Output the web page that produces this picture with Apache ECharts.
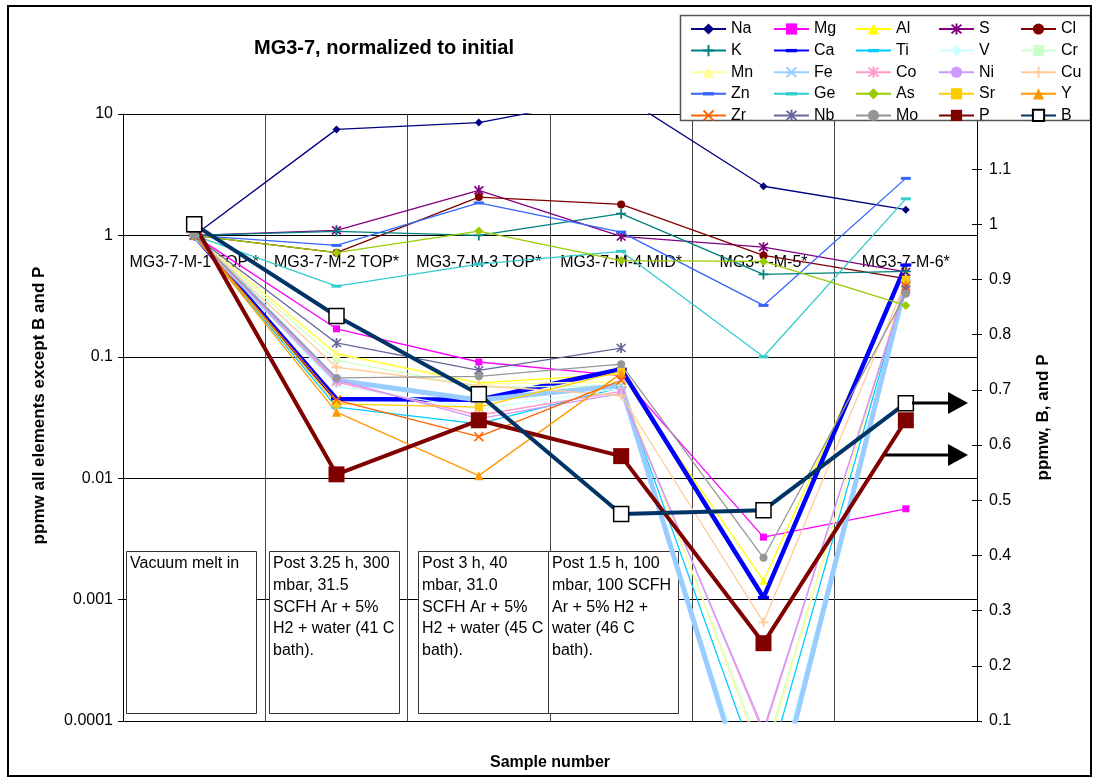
<!DOCTYPE html>
<html>
<head>
<meta charset="utf-8">
<script src="https://cdn.jsdelivr.net/npm/echarts@6/dist/echarts.min.js"></script>
<style>
  html, body { margin: 0; padding: 0; background: #fff; }
  #chart { width: 1093px; height: 778px; }
</style>
</head>
<body>
<div id="chart"></div>
<script>
// Samples along the x axis
const categories = ['MG3-7-M-1 TOP *', 'MG3-7-M-2 TOP*', 'MG3-7-M-3 TOP*', 'MG3-7-M-4 MID*', 'MG3-7-M-5*', 'MG3-7-M-6*'];

// Concentrations normalized to the first sample (left, logarithmic axis)
const Na = [1, 7.47, 8.5, 14.2, 2.54, 1.63];
const Mg = [1, 0.17, 0.0906, 0.070, 0.00327, 0.0056];
const Al = [1, 0.106, 0.061, 0.072, 0.00143, 0.53];
const S  = [1, 1.10, 2.35, 0.98, 0.80, 0.50];
const Cl = [1, 0.72, 2.07, 1.80, 0.684, 0.44];
const K  = [1, 1.08, 1.0, 1.51, 0.477, 0.505];
const Ca = [1, 0.045, 0.0443, 0.079, 0.00104, 0.57];
const Ti = [1, 0.0385, 0.028, 0.056, 0.00003, 0.42];
const V  = [1, 0.058, 0.037, 0.055, 0.000012, 0.40];
const Cr = [1, 0.094, 0.056, 0.058, 0.00005, 0.42];
const Mn = [1, 0.104, 0.060, 0.062, 0.000045, 0.45];
const Fe = [1, 0.064, 0.044, 0.058, 0.000009, 0.40];
const Co = [1, 0.062, 0.033, 0.052, 0.00008, 0.40];
const Ni = [1, 0.065, 0.031, 0.050, 0.000085, 0.38];
const Cu = [1, 0.082, 0.058, 0.048, 0.00065, 0.42];
const Zn = [1, 0.827, 1.85, 1.065, 0.265, 2.95];
const Ge = [1, 0.382, 0.58, 0.74, 0.10, 2.0];
const As = [1, 0.72, 1.085, 0.62, 0.61, 0.265];
const Sr = [1, 0.041, 0.0385, 0.076, null, 0.43];
const Y  = [1, 0.035, 0.0105, 0.073, null, 0.40];
const Zr = [1, 0.044, 0.022, 0.064, null, 0.38];
const Nb = [1, 0.13, 0.0774, 0.118, null, 0.36];
const Mo = [1, 0.067, 0.069, 0.087, 0.00221, 0.33];

// Boron and phosphorus in ppmw (right, linear axis)
const P = [1, 0.547, 0.645, 0.58, 0.241, 0.645];
const B = [1, 0.834, 0.692, 0.475, 0.482, 0.676];

// Right axis range and step
const rightMin = 0.1, rightMax = 1.2, rightStep = 0.1;

// Process notes shown under the samples
const notes = [
  'Vacuum melt in',
  'Post 3.25 h, 300\nmbar, 31.5\nSCFH Ar + 5%\nH2 + water (41 C\nbath).',
  'Post 3 h, 40\nmbar, 31.0\nSCFH Ar + 5%\nH2 + water (45 C\nbath).',
  'Post 1.5 h, 100\nmbar, 100 SCFH\nAr + 5% H2 +\nwater (46 C\nbath).'
];

// Legend columns (read top to bottom)
const legendColumns = [
  ['Na', 'K', 'Mn', 'Zn', 'Zr'],
  ['Mg', 'Ca', 'Fe', 'Ge', 'Nb'],
  ['Al', 'Ti', 'Co', 'As', 'Mo'],
  ['S', 'V', 'Ni', 'Sr', 'P'],
  ['Cl', 'Cr', 'Cu', 'Y', 'B']
];

const values = { Na, Mg, Al, S, Cl, K, Ca, Ti, V, Cr, Mn, Fe, Co, Ni, Cu, Zn, Ge, As, Sr, Y, Zr, Nb, Mo, P, B };
const order = ['Na','Mg','Al','S','Cl','K','Ca','Ti','V','Cr','Mn','Fe','Co','Ni','Cu','Zn','Ge','As','Sr','Y','Zr','Nb','Mo','P','B'];

// Marker shapes (square bounding boxes so they keep their shape everywhere)
const STAR = 'path://M-1.6,-10L1.6,-10L1.6,10L-1.6,10Z M-9.1,-6.9L-6.9,-9.1L9.1,6.9L6.9,9.1Z M6.9,-9.1L9.1,-6.9L-6.9,9.1L-9.1,6.9Z';
const CROSS = 'path://M-9.1,-6.9L-6.9,-9.1L9.1,6.9L6.9,9.1Z M6.9,-9.1L9.1,-6.9L-6.9,9.1L-9.1,6.9Z';
const PLUS = 'path://M-1.6,-9L1.6,-9L1.6,9L-1.6,9Z M-9,-1.6L9,-1.6L9,1.6L-9,1.6Z';
const DASH = 'path://M0,0L0,0M0,4.2L12,4.2L12,7.8L0,7.8ZM12,12L12,12';

const look = {
  Na: { c: '#000080', s: 'diamond', z: 8 },
  Mg: { c: '#FF00FF', s: 'rect', z: 7 },
  Al: { c: '#FFFF00', s: 'triangle', z: 8 },
  S:  { c: '#800080', s: STAR, z: 10 },
  Cl: { c: '#800000', s: 'circle', z: 8 },
  K:  { c: '#008080', s: PLUS, z: 10 },
  Ca: { c: '#0000FF', s: DASH, z: 11, w: 4.5 },
  Ti: { c: '#00CCFF', s: DASH, z: 10 },
  V:  { c: '#CCFFFF', s: 'diamond', z: 8 },
  Cr: { c: '#CCFFCC', s: 'rect', z: 7 },
  Mn: { c: '#FFFF99', s: 'triangle', z: 8 },
  Fe: { c: '#99CCFF', s: CROSS, z: 10, w: 5 },
  Co: { c: '#FF99CC', s: STAR, z: 10 },
  Ni: { c: '#CC99FF', s: 'circle', z: 8 },
  Cu: { c: '#FFCC99', s: PLUS, z: 10 },
  Zn: { c: '#3366FF', s: DASH, z: 10 },
  Ge: { c: '#33CCCC', s: DASH, z: 10 },
  As: { c: '#99CC00', s: 'diamond', z: 9 },
  Sr: { c: '#FFCC00', s: 'rect', z: 8 },
  Y:  { c: '#FF9900', s: 'triangle', z: 9 },
  Zr: { c: '#FF6600', s: CROSS, z: 10 },
  Nb: { c: '#666699', s: STAR, z: 10 },
  Mo: { c: '#969696', s: 'circle', z: 8 },
  P:  { c: '#800000', s: 'rect', z: 16, w: 4 },
  B:  { c: '#003366', s: 'rect', z: 15, w: 4 }
};

const FONT = 'Liberation Sans';

const series = order.map(function (n) {
  const st = look[n];
  const right = (n === 'P' || n === 'B');
  return {
    name: n,
    type: 'line',
    data: values[n],
    yAxisIndex: right ? 1 : 0,
    symbol: st.s,
    symbolSize: st.z,
    showAllSymbol: true,
    connectNulls: false,
    lineStyle: { color: st.c, width: st.w || 1.3 },
    itemStyle: n === 'B'
      ? { color: '#ffffff', borderColor: '#000000', borderWidth: 1.5 }
      : { color: st.c },
    emphasis: { disabled: true },
    animation: false
  };
});

const legendX = [690, 773, 855, 938, 1020];
const legends = legendColumns.map(function (col, i) {
  return {
    data: col,
    orient: 'vertical',
    left: legendX[i],
    top: 21,
    padding: 0,
    itemWidth: 35,
    itemHeight: 14,
    itemGap: 5.6,
    selectedMode: false,
    z: 6,
    textStyle: { fontSize: 16, color: '#000', fontFamily: FONT, lineHeight: 16, padding: [0, 0, 0, 0] }
  };
});

// Note boxes under samples 1-4
const boxX = [126, 269, 418, 548];
const noteGraphics = [];
notes.forEach(function (t, i) {
  noteGraphics.push({
    type: 'rect', z: 1, silent: true,
    shape: { x: boxX[i] + 0.5, y: 551.5, width: 130, height: 162 },
    style: { fill: '#ffffff', stroke: '#333333', lineWidth: 1 }
  });
  noteGraphics.push({
    type: 'text', z: 1, silent: true,
    x: boxX[i] + 4, y: 553,
    style: { text: t, fontSize: 16, fontFamily: FONT, fill: '#000', lineHeight: 21.7, verticalAlign: 'top' }
  });
});

function arrow(x0, x1, y) {
  return [
    { type: 'line', z: 5, silent: true, shape: { x1: x0, y1: y, x2: x1 - 16, y2: y }, style: { stroke: '#000', lineWidth: 3 } },
    { type: 'polygon', z: 5, silent: true, shape: { points: [[x1 - 20, y - 11], [x1, y], [x1 - 20, y + 11]] }, style: { fill: '#000' } }
  ];
}

const chart = echarts.init(document.getElementById('chart'), null, { renderer: 'canvas' });
chart.setOption({
  backgroundColor: '#ffffff',
  animation: false,
  textStyle: { fontFamily: FONT },
  title: {
    text: 'MG3-7, normalized to initial',
    left: 384, top: 38, textAlign: 'center', padding: 0,
    textStyle: { fontSize: 20, fontWeight: 'bold', color: '#000', fontFamily: FONT }
  },
  legend: legends,
  grid: { left: 123, right: 116, top: 114, bottom: 57, containLabel: false },
  xAxis: [
    {
      type: 'category', data: categories, position: 'bottom', boundaryGap: true,
      axisLine: { show: true, lineStyle: { color: '#000', width: 1 } },
      axisTick: { show: false }, axisLabel: { show: false },
      splitLine: { show: true, lineStyle: { color: '#444', width: 1 } },
      name: 'Sample number', nameLocation: 'middle', nameGap: 34,
      nameTextStyle: { fontSize: 16, fontWeight: 'bold', color: '#000', fontFamily: FONT }
    },
    {
      type: 'category', data: categories, position: 'bottom', offset: -486, boundaryGap: true,
      axisLine: { show: true, lineStyle: { color: '#000', width: 1 } },
      axisTick: { show: false },
      axisLabel: { interval: 0, margin: 20, fontSize: 16, color: '#000', fontFamily: FONT },
      splitLine: { show: false }
    }
  ],
  yAxis: [
    {
      type: 'log', logBase: 10, min: 0.0001, max: 10, position: 'left',
      axisLine: { show: true, lineStyle: { color: '#000', width: 1 } },
      axisTick: { show: true, length: 5, lineStyle: { color: '#000' } },
      minorTick: { show: false },
      axisLabel: { fontSize: 16, color: '#000', margin: 10, fontFamily: FONT,
        formatter: function (v) { return String(+(+v).toPrecision(6)); } },
      splitLine: { show: true, lineStyle: { color: '#000', width: 1 } },
      name: 'ppmw all elements except B and P', nameLocation: 'middle', nameGap: 75, nameRotate: 90,
      nameTextStyle: { fontSize: 17, fontWeight: 'bold', color: '#000', fontFamily: FONT, padding: [0, 0, 0, 24] }
    },
    {
      type: 'value', min: rightMin, max: rightMax, interval: rightStep, position: 'right',
      axisLine: { show: true, lineStyle: { color: '#000', width: 1 } },
      axisTick: { show: true, length: 5, lineStyle: { color: '#000' } },
      axisLabel: { fontSize: 16, color: '#000', margin: 12, fontFamily: FONT,
        formatter: function (v) { return String(+(+v).toFixed(1)); } },
      splitLine: { show: false },
      name: 'ppmw, B, and P', nameLocation: 'middle', nameGap: 58, nameRotate: 90,
      nameTextStyle: { fontSize: 17, fontWeight: 'bold', color: '#000', fontFamily: FONT }
    },
    {
      type: 'value', min: rightMin, max: rightMax, interval: rightStep, position: 'right',
      axisLine: { show: false },
      axisTick: { show: true, inside: true, length: 5, lineStyle: { color: '#000' } },
      axisLabel: { show: false },
      splitLine: { show: false }
    }
  ],
  series: series,
  graphic: {
    elements: [
      {
        type: 'rect', z: 3, silent: true,
        shape: { x: 680.5, y: 15.5, width: 410, height: 105 },
        style: { fill: '#ffffff', stroke: '#555555', lineWidth: 1.5 }
      },
      {
        type: 'rect', z: 20, silent: true,
        shape: { x: 8, y: 6, width: 1083, height: 770 },
        style: { fill: null, stroke: '#000000', lineWidth: 2 }
      }
    ].concat(noteGraphics, arrow(912, 968, 403), arrow(885, 968, 455))
  }
});
</script>
</body>
</html>
